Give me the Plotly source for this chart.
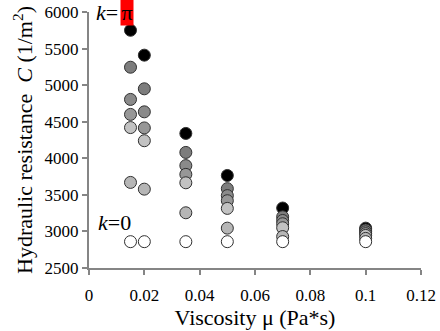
import plotly.graph_objects as go

viscosity = [0.015, 0.02, 0.035, 0.05, 0.07, 0.1]
k_pi = [5750, 5410, 4340, 3765, 3320, 3045]
k_5 = [5245, 4950, 4080, 3585, 3200, 3020]
k_4 = [4805, 4635, 3900, 3490, 3150, 2995]
k_3 = [4600, 4415, 3780, 3420, 3105, 2970]
k_2 = [4420, 4240, 3665, 3315, 3050, 2945]
k_1 = [3670, 3578, 3255, 3045, 2930, 2905]
k_0 = [2860, 2860, 2860, 2860, 2860, 2860]

series = [k_pi, k_5, k_4, k_3, k_2, k_1, k_0]
colors = ["#000000", "#7d7d7d", "#8a8a8a", "#979797", "#c2c2c2", "#b6b6b6", "#ffffff"]

FONT = "Liberation Serif"
fig = go.Figure()
for ys, c in zip(series, colors):
    fig.add_trace(go.Scatter(
        x=viscosity, y=ys, mode="markers",
        marker=dict(size=12, color=c, line=dict(color="#303030", width=1)),
        showlegend=False, hoverinfo="skip"))

axis_common = dict(showline=True, linecolor="#858585", linewidth=2, ticks="outside",
                   ticklen=5, tickwidth=2, tickcolor="#858585", showgrid=False,
                   zeroline=False, automargin=False,
                   tickfont=dict(family=FONT, size=17, color="black"))

fig.update_xaxes(range=[0, 0.12], tickvals=[0, 0.02, 0.04, 0.06, 0.08, 0.1, 0.12],
                 ticktext=["0", "0.02", "0.04", "0.06", "0.08", "0.1", "0.12"],
                 ticklabelstandoff=6,
                 title=dict(text="Viscosity μ (Pa*s)", font=dict(family=FONT, size=22, color="black"),
                            standoff=0),
                 **axis_common)
fig.update_yaxes(range=[2500, 6000], tickvals=[2500, 3000, 3500, 4000, 4500, 5000, 5500, 6000],
                 title=dict(text="Hydraulic resistance  <i>C</i> (1/m<sup>2</sup>)",
                            font=dict(family=FONT, size=22, color="black"), standoff=6),
                 **axis_common)

fig.add_annotation(x=0.0113, y=6000, xref="x", yref="y", text="<i>k</i>=",
                   showarrow=False, xanchor="right", yanchor="middle",
                   font=dict(family=FONT, size=22, color="black"))
fig.add_annotation(x=0.0113, y=6000, xref="x", yref="y", text="π",
                   showarrow=False, xanchor="left", yanchor="middle",
                   bgcolor="#ff0000", width=12, height=26, borderpad=0,
                   font=dict(family=FONT, size=22, color="black"))
fig.add_annotation(x=0.0091, y=3120, xref="x", yref="y", text="<i>k</i>=0",
                   showarrow=False, xanchor="center", yanchor="middle",
                   font=dict(family=FONT, size=22, color="black"))

fig.update_layout(width=440, height=331, margin=dict(l=89, r=19, t=12, b=63),
                  plot_bgcolor="white", paper_bgcolor="white")
# remove the page's default 8px body margin so the figure sits at the window corner
fig.write_html("out.html", config={"displayModeBar": False},
               post_script="document.body.style.margin='0';")
